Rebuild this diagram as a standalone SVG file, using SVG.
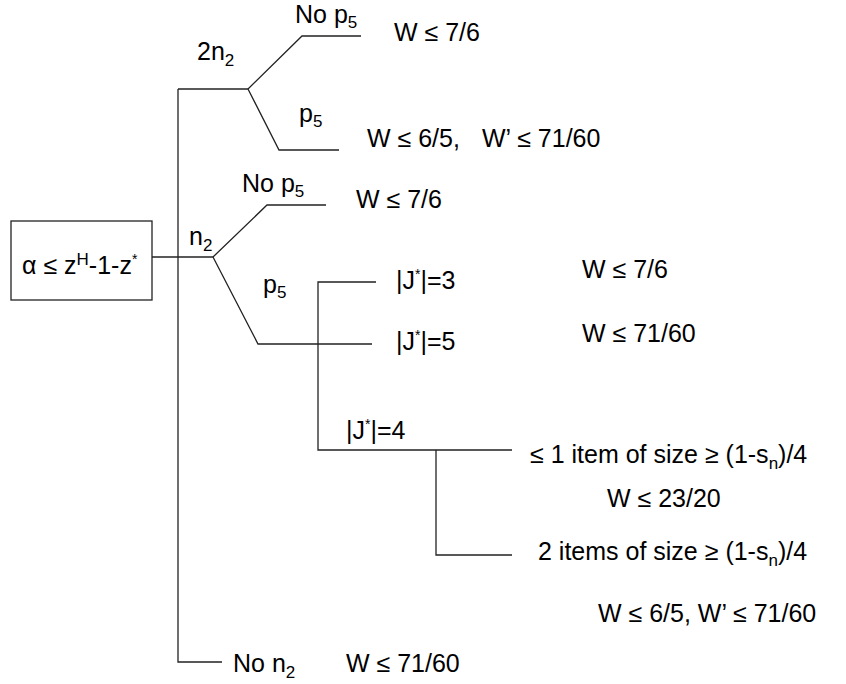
<svg xmlns="http://www.w3.org/2000/svg" width="846" height="684" viewBox="0 0 846 684">
<style>
.ln{fill:none;stroke:#222;stroke-width:1.3}
text{font-family:"Liberation Sans",Arial,sans-serif;font-size:25px;fill:#000}
.sub{font-size:17px}
.sup{font-size:17px}
.ast{font-size:14px}
</style>
<rect width="846" height="684" fill="#fff"/>
<g id="connectors">
<polyline class="ln" points="152,257 213,257"/>
<polyline class="ln" points="178,89 178,662 222,662"/>
<polyline class="ln" points="178,89 248,89"/>
<polyline class="ln" points="248,89 302,36 361,36"/>
<polyline class="ln" points="248,89 279,150 339,150"/>
<polyline class="ln" points="213,257 267,205 326,205"/>
<polyline class="ln" points="213,257 258,344 372,344"/>
<polyline class="ln" points="376,282 318,282 318,450 512,450"/>
<polyline class="ln" points="436,450 436,555 512,555"/>
</g>
<g id="root">
<rect class="ln" x="11" y="221" width="141" height="79"/>
<text x="22" y="274">α ≤ z<tspan class="sup" dy="-9">H</tspan><tspan dy="9">-1-z</tspan><tspan class="ast" dy="-10">*</tspan></text>
</g>
<g id="n-2n2"><text x="197" y="60">2n<tspan class="sub" dy="6">2</tspan></text></g>
<g id="n-nop5-a"><text x="295" y="23">No p<tspan class="sub" dy="5">5</tspan></text></g>
<g id="n-w76-a"><text x="394" y="41">W ≤ 7/6</text></g>
<g id="n-p5-a"><text x="299" y="122">p<tspan class="sub" dy="5">5</tspan></text></g>
<g id="n-w65-a"><text x="367" y="147">W ≤ 6/5,</text><text x="482" y="147">W’ ≤ 71/60</text></g>
<g id="n-n2"><text x="189" y="245">n<tspan class="sub" dy="6">2</tspan></text></g>
<g id="n-nop5-b"><text x="242" y="192">No p<tspan class="sub" dy="5">5</tspan></text></g>
<g id="n-w76-b"><text x="356" y="208">W ≤ 7/6</text></g>
<g id="n-p5-b"><text x="263" y="293">p<tspan class="sub" dy="5">5</tspan></text></g>
<g id="n-j3"><text x="396" y="289">|J<tspan class="ast" dy="-10">*</tspan><tspan dy="10">|=3</tspan></text></g>
<g id="n-w76-c"><text x="582" y="278">W ≤ 7/6</text></g>
<g id="n-j5"><text x="396" y="350">|J<tspan class="ast" dy="-10">*</tspan><tspan dy="10">|=5</tspan></text></g>
<g id="n-w7160-a"><text x="582" y="342">W ≤ 71/60</text></g>
<g id="n-j4"><text x="346" y="439">|J<tspan class="ast" dy="-10">*</tspan><tspan dy="10">|=4</tspan></text></g>
<g id="n-le1"><text x="530" y="463">≤ 1 item of size ≥ (1-s<tspan class="sub" dy="6">n</tspan><tspan dy="-6">)/4</tspan></text></g>
<g id="n-w2320"><text x="607" y="507">W ≤ 23/20</text></g>
<g id="n-two"><text x="538" y="560">2 items of size ≥ (1-s<tspan class="sub" dy="6">n</tspan><tspan dy="-6">)/4</tspan></text></g>
<g id="n-w65-b"><text x="598" y="622">W ≤ 6/5, W’ ≤ 71/60</text></g>
<g id="n-non2"><text x="233" y="672">No n<tspan class="sub" dy="6">2</tspan></text></g>
<g id="n-w7160-b"><text x="346" y="672">W ≤ 71/60</text></g>
</svg>
